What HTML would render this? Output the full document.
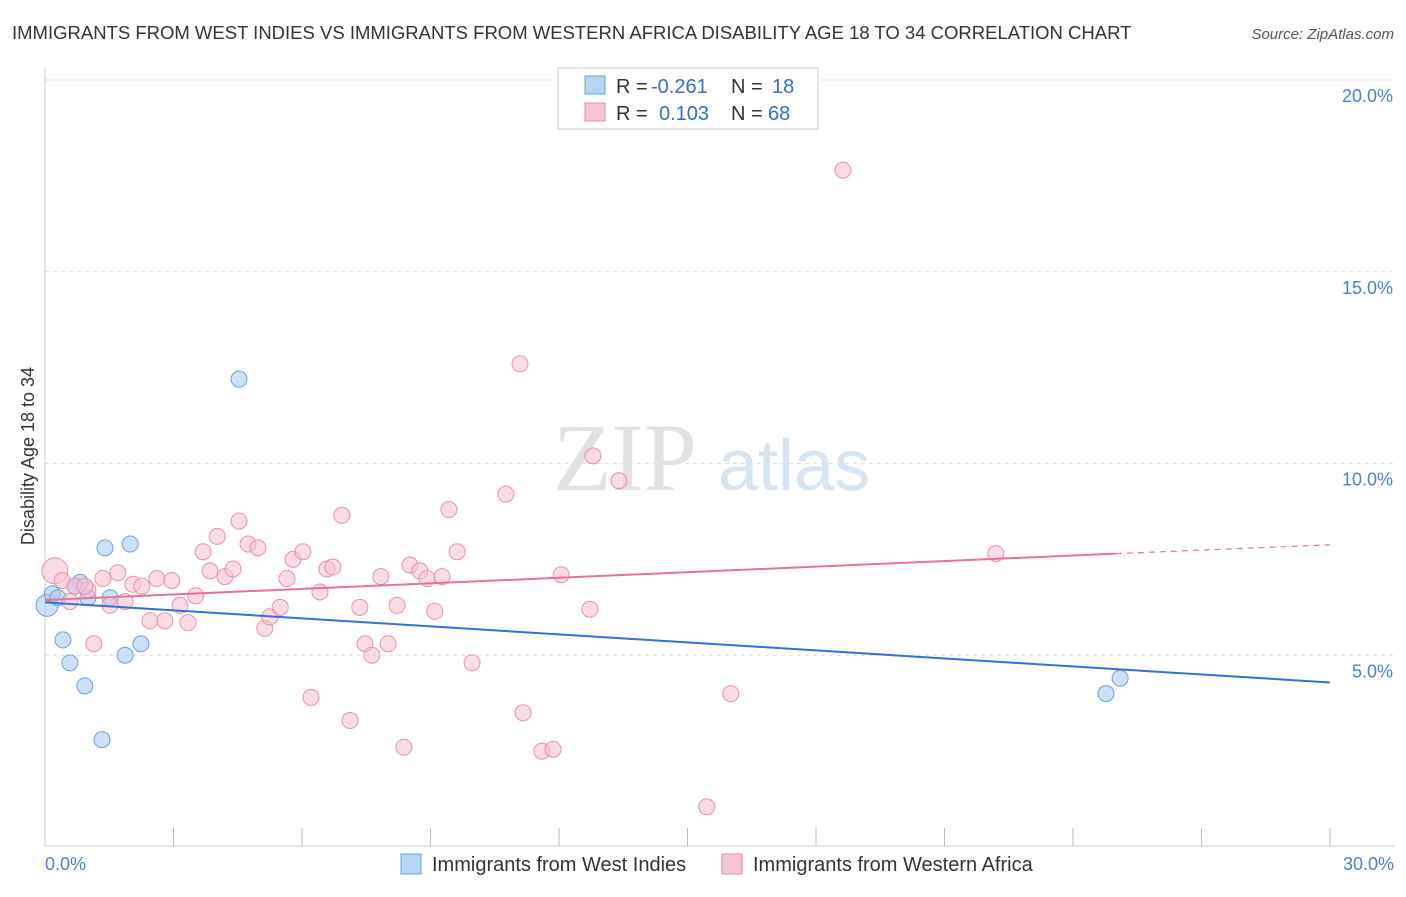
<!DOCTYPE html>
<html><head><meta charset="utf-8"><style>
body{margin:0;background:#fff;font-family:"Liberation Sans",sans-serif}
</style></head><body>
<svg width="1406" height="892" xmlns="http://www.w3.org/2000/svg">
<text x="12" y="39" font-size="18.5" fill="#333">IMMIGRANTS FROM WEST INDIES VS IMMIGRANTS FROM WESTERN AFRICA DISABILITY AGE 18 TO 34 CORRELATION CHART</text>
<text x="1394" y="39" font-size="15" fill="#555" text-anchor="end" font-style="italic">Source: ZipAtlas.com</text>
<g id="grid"></g>
<line x1="45" y1="68" x2="45" y2="846" stroke="#ccc"/>
<line x1="45" y1="846" x2="1394" y2="846" stroke="#ccc"/>
<text x="553" y="490" font-size="96" fill="#e2e2e2" font-family="Liberation Serif,serif">ZIP</text>
<text x="718" y="490" font-size="72" fill="#d6e4f4">atlas</text>
<text x="34" y="456" font-size="18" fill="#333" text-anchor="middle" transform="rotate(-90 34 456)">Disability Age 18 to 34</text>
<text x="45" y="870" font-size="18" fill="#4a7fd6">0.0%</text>
<text x="1394" y="870" font-size="18" fill="#4a7fd6" text-anchor="end">30.0%</text>
<g id="marks"></g>
<g font-size="20">
<rect x="558" y="68" width="260" height="61" fill="#fff" stroke="#ccc"/>
<rect x="585" y="76" width="20" height="18" fill="#b8d4f4" stroke="#6a9fe0"/>
<rect x="585" y="103" width="20" height="18" fill="#f9c4d4" stroke="#e890ab"/>
<text x="616" y="93" fill="#333">R =</text>
<text x="651" y="93" fill="#2f6fd6">-0.261</text>
<text x="731" y="93" fill="#333">N =</text>
<text x="772" y="93" fill="#2f6fd6">18</text>
<text x="616" y="120" fill="#333">R =</text>
<text x="659" y="120" fill="#2f6fd6">0.103</text>
<text x="731" y="120" fill="#333">N =</text>
<text x="768" y="120" fill="#2f6fd6">68</text>
</g>
<g>
<rect x="401" y="854" width="20" height="20" fill="#b8d4f4" stroke="#6a9fe0"/>
<text x="432" y="871" font-size="20" fill="#333">Immigrants from West Indies</text>
<rect x="722" y="854" width="20" height="20" fill="#f9c4d4" stroke="#e890ab"/>
<text x="753" y="871" font-size="20" fill="#333">Immigrants from Western Africa</text>
</g>
</svg>
<script>
const yTicks=[5,10,15,20];
const xTicks=[0,3,6,9,12,15,18,21,24,27,30];
const blueX=[0.05,0.17,0.3,0.42,0.58,0.82,0.93,1.33,1.4,1.52,1.87,1.99,2.24,4.53,24.77,25.1,0.7,1.0];
const blueY=[6.3,6.6,6.5,5.4,4.8,6.9,4.2,2.8,7.8,6.5,5.0,7.9,5.3,12.2,4.0,4.4,6.8,6.5];
const pinkX=[0.23,0.4,0.58,0.7,1.0,1.14,1.35,1.52,1.7,1.87,2.05,2.26,2.45,2.61,2.8,2.96,3.15,3.34,3.52,3.69,3.85,4.02,4.2,4.39,4.53,4.74,4.97,5.13,5.25,5.49,5.65,5.79,6.02,6.21,6.42,6.58,6.72,6.93,7.12,7.35,7.47,7.63,7.84,8.01,8.22,8.38,8.52,8.75,8.92,9.1,9.27,9.43,9.62,9.97,10.76,11.09,11.16,11.6,11.86,12.05,12.72,12.79,13.4,15.45,16.01,18.63,22.2,0.93];
const pinkY=[7.2,6.95,6.4,6.8,6.7,5.3,7.0,6.3,7.15,6.4,6.85,6.8,5.9,7.0,5.9,6.95,6.3,5.85,6.55,7.7,7.2,8.1,7.05,7.25,8.5,7.9,7.8,5.7,6.0,6.25,7.0,7.5,7.7,3.9,6.65,7.25,7.3,8.65,3.3,6.25,5.3,5.0,7.05,5.3,6.3,2.6,7.35,7.2,7.0,6.15,7.05,8.8,7.7,4.8,9.2,12.6,3.5,2.5,2.55,7.1,6.2,10.2,9.55,1.05,4.0,17.65,7.65,6.8];
const blueFit=[6.38,4.29];
const pinkFit=[6.44,7.65,7.88];
const ns="http://www.w3.org/2000/svg";
const X=v=>45+v/30*1285, Y=v=>847-v*38.35;
const grid=document.getElementById('grid'),marks=document.getElementById('marks');
function mk(tag,attrs,parent){const e=document.createElementNS(ns,tag);for(const k in attrs)e.setAttribute(k,attrs[k]);parent.appendChild(e);return e;}
yTicks.forEach(t=>{
 const l=mk('line',{x1:45,x2:1394,y1:Y(t),y2:Y(t),stroke:'#ddd','stroke-dasharray':'4,4'},grid);
 
 
 const tx=mk('text',{x:1393,y:Y(t)+22,'font-size':18,fill:'#4a7fd6','text-anchor':'end'},grid);
 tx.textContent=t.toFixed(1)+'%';
 
 
});
xTicks.forEach(t=>{
 const l=mk('line',{x1:X(t),x2:X(t),y1:828,y2:846,stroke:'#bbb'},grid);
 
 
});
blueX.forEach((v,i)=>{
 const c=mk('circle',{cx:X(v),cy:Y(blueY[i]),r:i==0?11:8,fill:'#aecbf0','fill-opacity':0.6,stroke:'#6a9fe0','stroke-width':1},marks);
 
 
});
pinkX.forEach((v,i)=>{
 const c=mk('circle',{cx:X(v),cy:Y(pinkY[i]),r:i==0?13:8,fill:'#f8bfd0','fill-opacity':0.55,stroke:'#e890ab','stroke-width':1},marks);
 
 
});
const bl=mk('line',{x1:X(0),y1:Y(blueFit[0]),x2:X(30),y2:Y(blueFit[1]),stroke:'#2f72d8','stroke-width':2},marks);


const pl=mk('line',{x1:X(0),y1:Y(pinkFit[0]),x2:X(25),y2:Y(pinkFit[1]),stroke:'#e8709a','stroke-width':2},marks);


const pd=mk('line',{x1:X(25),y1:Y(pinkFit[1]),x2:X(30),y2:Y(pinkFit[2]),stroke:'#e8709a','stroke-width':1.2,'stroke-dasharray':'6,5'},marks);


</script>
</body></html>
